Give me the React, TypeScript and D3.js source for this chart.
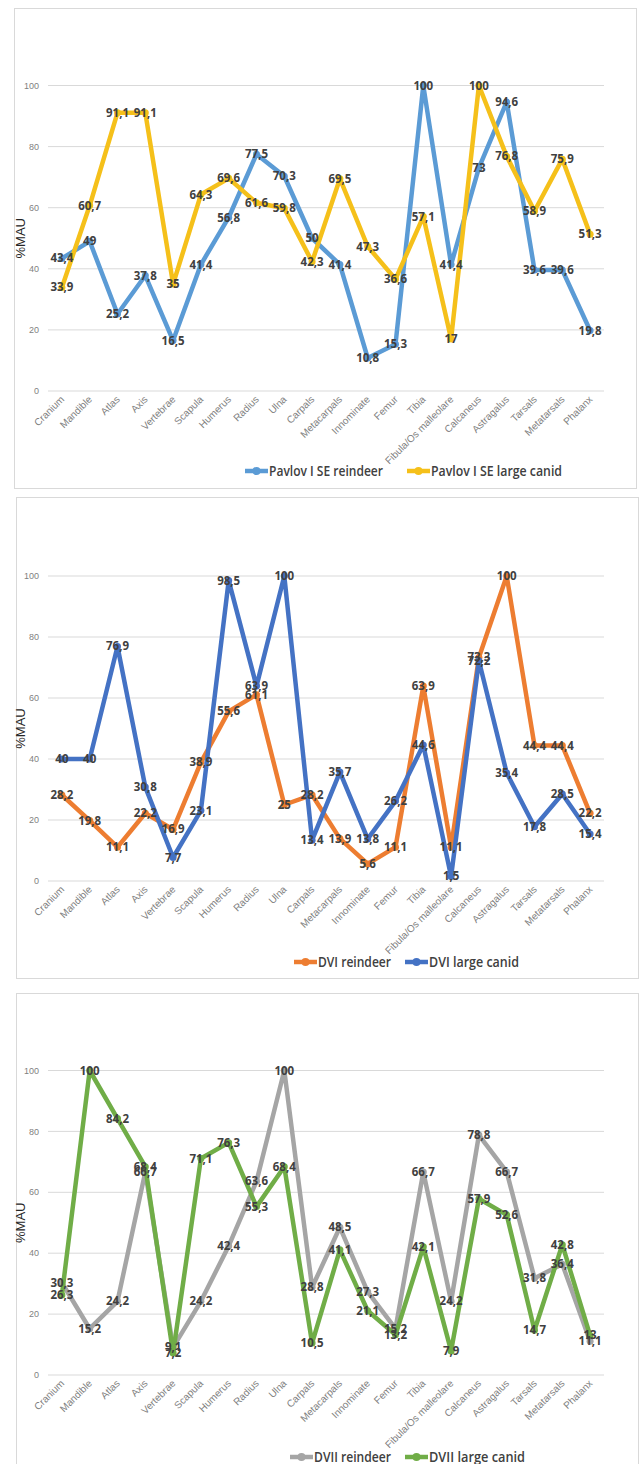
import React from 'react';
import * as d3 from 'd3';

const categories = [
    'Cranium', 'Mandible', 'Atlas', 'Axis', 'Vertebrae', 'Scapula', 'Humerus',
    'Radius', 'Ulna', 'Carpals', 'Metacarpals', 'Innominate', 'Femur', 'Tibia',
    'Fibula/Os malleolare', 'Calcaneus', 'Astragalus', 'Tarsals', 'Metatarsals', 'Phalanx',
];

const yTicks = [0, 20, 40, 60, 80, 100];

// Pavlov I SE
const pavlovReindeer = [43.4, 49, 25.2, 37.8, 16.5, 41.4, 56.8, 77.5, 70.3, 50, 41.4, 10.8, 15.3, 100, 41.4, 73, 94.6, 39.6, 39.6, 19.8];
const pavlovCanid = [33.9, 60.7, 91.1, 91.1, 35, 64.3, 69.6, 61.6, 59.8, 42.3, 69.5, 47.3, 36.6, 57.1, 17, 100, 76.8, 58.9, 75.9, 51.3];

// DVI
const dviReindeer = [28.2, 19.8, 11.1, 22.2, 16.9, 38.9, 55.6, 61.1, 25, 28.2, 13.9, 5.6, 11.1, 63.9, 11.1, 73.3, 100, 44.4, 44.4, 22.2];
const dviCanid = [40, 40, 76.9, 30.8, 7.7, 23.1, 98.5, 63.9, 100, 13.4, 35.7, 13.8, 26.2, 44.6, 1.5, 72.2, 35.4, 17.8, 28.5, 15.4];

// DVII
const dviiReindeer = [30.3, 15.2, 24.2, 66.7, 9.1, 24.2, 42.4, 63.6, 100, 28.8, 48.5, 27.3, 15.2, 66.7, 24.2, 78.8, 66.7, 31.8, 36.4, 11.1];
const dviiCanid = [26.3, 100, 84.2, 68.4, 7.2, 71.1, 76.3, 55.3, 68.4, 10.5, 41.1, 21.1, 13.2, 42.1, 7.9, 57.9, 52.6, 14.7, 42.8, 13];

interface Series {
    name: string;
    values: number[];
    color: string;
    legendX: number;
    legendW: number;
}

interface PanelProps {
    id: string;
    box: { x: number; y: number; w: number; h: number };
    y0: number;
    y100: number;
    legendY: number;
    series: Series[];
}

const PLOT_LEFT = 48;
const PLOT_RIGHT = 604;
const fmt = (v: number) => String(v).replace('.', ',');

const Panel: React.FC<PanelProps> = ({ id, box, y0, y100, legendY, series }) => {
    const x = d3.scalePoint<string>().domain(categories).range([PLOT_LEFT, PLOT_RIGHT]).padding(0.5);
    const y = d3.scaleLinear().domain([0, 100]).range([y0, y100]);
    const line = d3
        .line<number>()
        .x((_, i) => x(categories[i])!)
        .y((d) => y(d));

    return (
        <g>
            <rect x={box.x + 0.5} y={box.y + 0.5} width={box.w} height={box.h} fill="#fff" stroke="#d9d9d9" />
            <clipPath id={`clip-${id}`}>
                <rect x={box.x} y={box.y} width={PLOT_RIGHT + 2 - box.x} height={box.h} />
            </clipPath>
            {yTicks.map((t) => (
                <g key={t}>
                    <line x1={PLOT_LEFT} x2={PLOT_RIGHT} y1={y(t)} y2={y(t)} stroke="#d9d9d9" strokeWidth={1} />
                    <text x={39} y={y(t)} dy="0.35em" textAnchor="end" fontSize={9} fill="#7f7f7f" fontFamily="Liberation Sans, Arial, sans-serif">
                        {t}
                    </text>
                </g>
            ))}
            {categories.map((c) => (
                <text
                    key={c}
                    transform={`translate(${x(c)! + 3},${y0 + 9}) rotate(-45)`}
                    textAnchor="end"
                    fontSize={10}
                    fill="#7f7f7f"
                    fontFamily="Liberation Sans, Arial, sans-serif"
                >
                    {c}
                </text>
            ))}
            <text
                transform={`translate(25,${(y0 + y100) / 2}) rotate(-90)`}
                textAnchor="middle"
                fontSize={13}
                fill="#262626"
                fontFamily="Liberation Sans, Arial, sans-serif"
            >
                %MAU
            </text>
            {series.map((s) => (
                <g key={s.name}>
                    <path d={line(s.values)!} fill="none" stroke={s.color} strokeWidth={4.5} strokeLinejoin="round" strokeLinecap="round" />
                    {s.values.map((v, i) => (
                        <circle key={i} cx={x(categories[i])} cy={y(v)} r={3.5} fill={s.color} />
                    ))}
                </g>
            ))}
            <g clipPath={`url(#clip-${id})`}>
                {series.map((s) =>
                    s.values.map((v, i) => (
                        <text
                            key={s.name + i}
                            x={x(categories[i])}
                            y={y(v)}
                            dy="0.35em"
                            textAnchor="middle"
                            fontSize={11.5}
                            fontWeight="bold"
                            fill="#404040"
                            fontFamily="Open Sans, Liberation Sans, sans-serif"
                        >
                            {fmt(v)}
                        </text>
                    )),
                )}
            </g>
            {series.map((s) => (
                <g key={'lg' + s.name}>
                    <line x1={s.legendX} x2={s.legendX + 23} y1={legendY} y2={legendY} stroke={s.color} strokeWidth={4.5} />
                    <circle cx={s.legendX + 11.5} cy={legendY} r={4} fill={s.color} />
                    <text
                        x={s.legendX + 24}
                        y={legendY}
                        dy="0.35em"
                        fontSize={14}
                        fontWeight={600}
                        fill="#404040"
                        fontFamily="Open Sans, Liberation Sans, sans-serif"
                        textLength={s.legendW}
                        lengthAdjust="spacingAndGlyphs"
                    >
                        {s.name}
                    </text>
                </g>
            ))}
        </g>
    );
};

export default function App() {
    return (
        <svg
            width={640}
            height={1464}
            viewBox="0 0 640 1464"
            style={{ position: 'absolute', left: 0, top: 0, background: '#fff' }}
        >
            <Panel
                id="p1"
                box={{ x: 14, y: 8, w: 622, h: 480 }}
                y0={391}
                y100={85.5}
                legendY={471}
                series={[
                    { name: 'Pavlov I SE reindeer', values: pavlovReindeer, color: '#5b9bd5', legendX: 245, legendW: 114 },
                    { name: 'Pavlov I SE large canid', values: pavlovCanid, color: '#f5c01a', legendX: 407, legendW: 131 },
                ]}
            />
            <Panel
                id="p2"
                box={{ x: 16, y: 497, w: 622, h: 481 }}
                y0={881}
                y100={576}
                legendY={962}
                series={[
                    { name: 'DVI reindeer', values: dviReindeer, color: '#ed7d31', legendX: 294, legendW: 73 },
                    { name: 'DVI large canid', values: dviCanid, color: '#4472c4', legendX: 405, legendW: 90 },
                ]}
            />
            <Panel
                id="p3"
                box={{ x: 16, y: 993, w: 622, h: 480 }}
                y0={1375}
                y100={1070.5}
                legendY={1457}
                series={[
                    { name: 'DVII reindeer', values: dviiReindeer, color: '#a5a5a5', legendX: 290, legendW: 77 },
                    { name: 'DVII  large canid', values: dviiCanid, color: '#70ad47', legendX: 405, legendW: 96 },
                ]}
            />
        </svg>
    );
}
